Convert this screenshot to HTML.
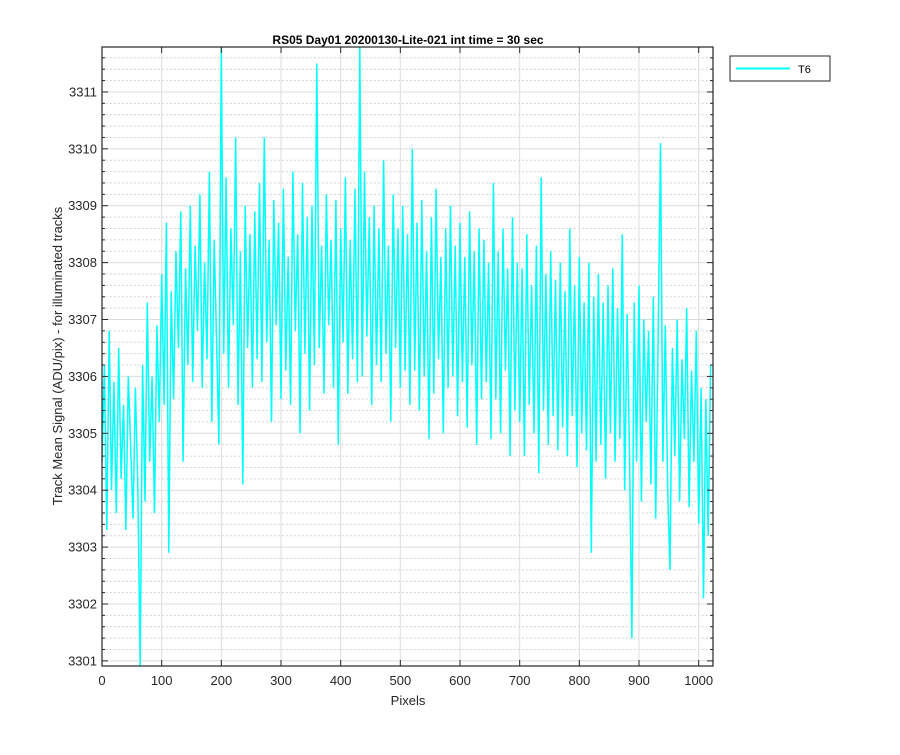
<!DOCTYPE html>
<html><head><meta charset="utf-8"><style>
body{margin:0;background:#fff;font-family:"Liberation Sans",Arial,sans-serif}
svg text{font-family:"Liberation Sans",Arial,sans-serif}
</style></head><body>
<svg id="chart" width="900" height="750" xmlns="http://www.w3.org/2000/svg">
<rect width="900" height="750" fill="#fff"/>
<g id="grid"></g>
<g id="series"></g>
<g id="axes"></g>
<text x="408" y="44" font-size="12" font-weight="bold" text-anchor="middle" fill="#000">RS05 Day01 20200130-Lite-021 int time = 30 sec</text>
<text x="408" y="705" font-size="13" text-anchor="middle" fill="#262626">Pixels</text>
<text transform="translate(62,356) rotate(-90)" font-size="13" text-anchor="middle" fill="#262626">Track Mean Signal (ADU/pix) - for illuminated tracks</text>
<g>
<rect x="730" y="56" width="100" height="25" fill="#fff" stroke="#262626" stroke-width="1"/>
<line x1="736" y1="68.5" x2="790" y2="68.5" stroke="#00ffff" stroke-width="2"/>
<text x="798" y="73" font-size="11" fill="#000">T6</text>
</g>
</svg>
<script>
const xTicks=[0,100,200,300,400,500,600,700,800,900,1000];
const yTicks=[3301,3302,3303,3304,3305,3306,3307,3308,3309,3310,3311];
const pixelStep=4;
const t6Values=[
3304.5,3306.2,3303.3,3306.8,3304.0,3305.9,3303.6,3306.5,3304.2,3305.5,3303.3,3306.0,3304.8,3303.5,3305.8,3304.1,
3300.9,3306.2,3303.8,3307.3,3304.5,3306.0,3303.6,3306.9,3305.2,3307.8,3305.5,3308.7,3302.9,3307.5,3305.6,3308.2,
3306.5,3308.9,3304.5,3307.9,3306.2,3309.0,3305.9,3308.3,3306.8,3309.2,3305.8,3308.0,3306.3,3309.6,3305.2,3308.4,
3306.6,3304.8,3311.8,3306.4,3309.5,3305.8,3308.6,3306.9,3310.2,3305.5,3308.2,3304.1,3309.0,3306.5,3308.5,3305.8,
3308.9,3306.3,3309.4,3305.9,3310.2,3306.6,3308.4,3305.2,3309.1,3306.9,3308.7,3305.6,3309.3,3306.1,3308.1,3305.5,
3309.6,3306.8,3308.5,3305.0,3309.4,3306.4,3308.8,3305.4,3309.0,3306.2,3311.5,3306.5,3308.3,3305.7,3309.2,3306.9,
3308.4,3305.8,3309.1,3304.8,3308.6,3306.6,3309.5,3305.7,3308.4,3306.3,3309.3,3305.9,3311.8,3306.0,3309.6,3306.7,
3308.8,3305.5,3309.0,3306.2,3308.6,3305.9,3309.8,3306.4,3308.3,3305.2,3309.2,3306.5,3308.6,3305.8,3309.0,3306.1,
3308.5,3305.5,3310.0,3306.1,3308.7,3305.4,3309.1,3306.0,3308.2,3304.9,3308.8,3305.7,3309.3,3306.3,3308.1,3305.0,
3308.6,3305.8,3309.0,3306.0,3308.3,3305.3,3308.7,3305.9,3308.1,3305.1,3308.9,3306.2,3308.2,3304.8,3308.6,3305.6,
3308.4,3305.9,3308.0,3304.9,3309.4,3305.6,3308.2,3305.0,3308.6,3306.1,3307.9,3304.6,3308.8,3305.4,3308.0,3305.2,
3307.9,3304.6,3308.5,3305.5,3307.6,3305.0,3308.3,3304.3,3309.5,3305.4,3307.8,3304.8,3308.2,3305.3,3307.7,3304.7,
3308.0,3305.1,3307.5,3304.6,3308.6,3305.3,3307.6,3304.4,3308.1,3305.0,3307.3,3304.7,3308.0,3302.9,3307.4,3304.5,
3307.8,3304.8,3307.3,3304.2,3307.6,3305.0,3307.9,3304.5,3307.2,3304.9,3308.5,3304.0,3307.1,3304.6,3301.4,3307.3,
3304.5,3307.6,3303.8,3307.0,3305.2,3306.8,3304.1,3307.4,3303.5,3306.6,3310.1,3304.5,3306.9,3304.0,3302.6,3306.5,
3304.6,3307.0,3303.8,3306.3,3304.9,3307.2,3303.7,3306.1,3304.5,3306.8,3303.4,3305.8,3302.1,3305.6,3303.2,3306.2
];
const L=102,R=713,T=47,B=666;
const xMin=0,xMax=1024,yMin=3300.91,yMax=3311.79;
const NS="http://www.w3.org/2000/svg";
function xs(v){return L+(v-xMin)/(xMax-xMin)*(R-L);}
function ys(v){return B-(v-yMin)/(yMax-yMin)*(B-T);}
function mk(tag,attrs,parent){const e=document.createElementNS(NS,tag);for(const k in attrs)e.setAttribute(k,attrs[k]);parent.appendChild(e);return e;}
const grid=document.getElementById('grid'),axes=document.getElementById('axes'),series=document.getElementById('series');
for(let i=0;i<=60;i++){const v=3300+i*0.2;if(v<yMin||v>yMax)continue;if(Math.abs(v-Math.round(v))<1e-6)continue;
const y=ys(v);const l=mk('line',{x1:L,x2:R,y1:y,y2:y,stroke:'#c8c8c8','stroke-width':1,'stroke-dasharray':'1.5,2.5'},grid);


const tk=mk('line',{x1:L,x2:L+3,y1:y,y2:y,stroke:'#262626'},axes);


const tk2=mk('line',{x1:R-3,x2:R,y1:y,y2:y,stroke:'#262626'},axes);

}
xTicks.forEach(v=>{const x=xs(v);
const g=mk('line',{x1:x,x2:x,y1:T,y2:B,stroke:'#dcdcdc','stroke-width':1},grid);


mk('line',{x1:x,x2:x,y1:B,y2:B-6,stroke:'#262626'},axes);
mk('line',{x1:x,x2:x,y1:T,y2:T+6,stroke:'#262626'},axes);
const t=mk('text',{x:x,y:B+19,'font-size':13,'text-anchor':'middle',fill:'#262626'},axes);t.textContent=v;

});
yTicks.forEach(v=>{const y=ys(v);
const g=mk('line',{x1:L,x2:R,y1:y,y2:y,stroke:'#dcdcdc','stroke-width':1},grid);


mk('line',{x1:L,x2:L+6,y1:y,y2:y,stroke:'#262626'},axes);
mk('line',{x1:R-6,x2:R,y1:y,y2:y,stroke:'#262626'},axes);
const t=mk('text',{x:L-5,y:y+4.5,'font-size':13,'text-anchor':'end',fill:'#262626'},axes);t.textContent=v;

});
const frame=mk('rect',{x:L,y:T,width:R-L,height:B-T,fill:'none',stroke:'#262626','stroke-width':1.2},axes);


const cp=mk('clipPath',{id:'clip'},series);mk('rect',{x:L,y:T,width:R-L,height:B-T},cp);
const pts=t6Values.map((v,i)=>xs(i*pixelStep).toFixed(1)+','+ys(v).toFixed(1)).join(' ');
const line=mk('polyline',{points:pts,fill:'none',stroke:'#00ffff','stroke-width':1.5,'clip-path':'url(#clip)','stroke-linejoin':'miter'},series);


</script>
</body></html>
